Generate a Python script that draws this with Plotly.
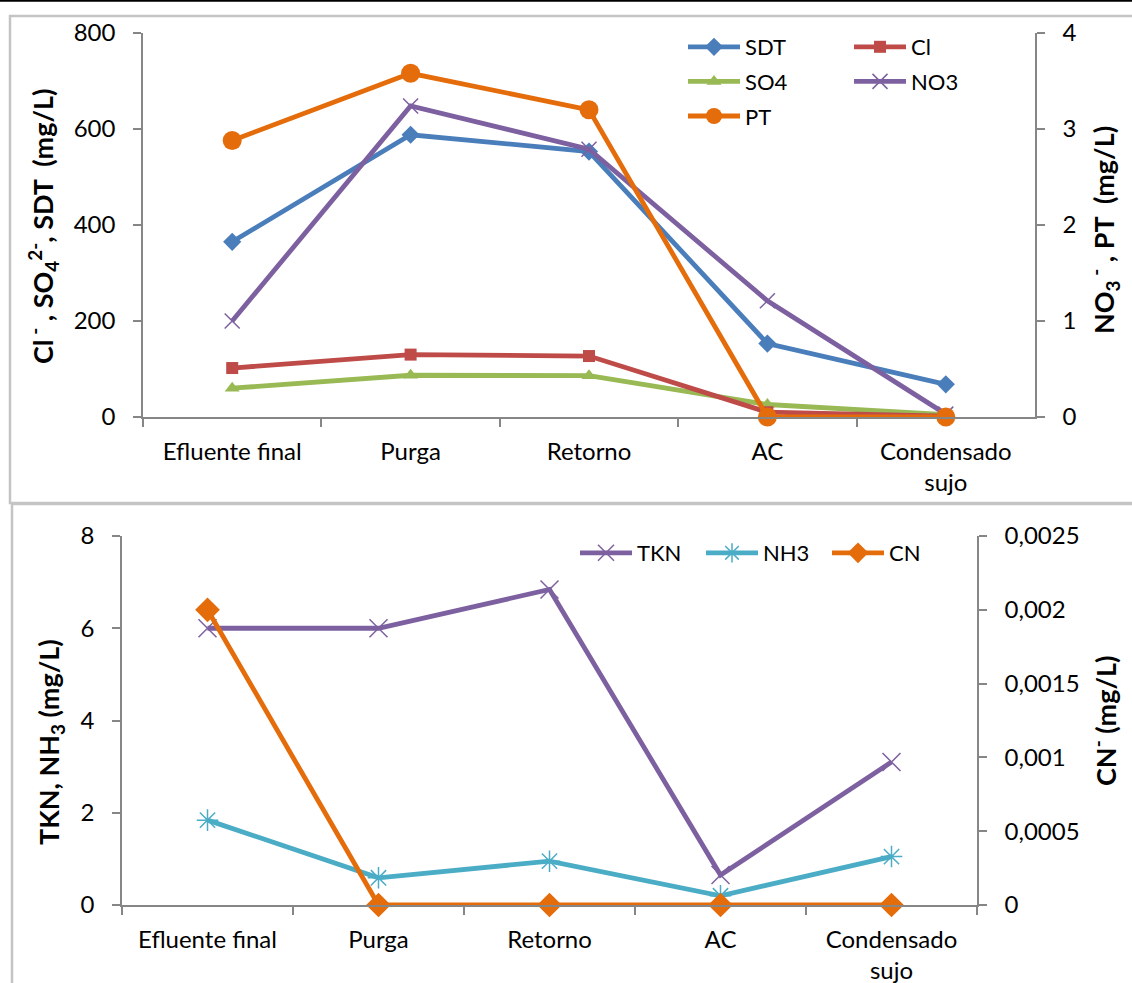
import plotly.graph_objects as go

W, H = 1132, 983

categories = ["Efluente final", "Purga", "Retorno", "AC", "Condensado<br>sujo"]

# Top panel (left axis, mg/L)
sdt = [365, 588, 553, 153, 68]
cl = [102, 130, 127, 10, 2]
so4 = [60, 87, 86, 26, 5]
# Top panel (right axis, mg/L)
no3 = [1.0, 3.24, 2.79, 1.21, 0.03]
pt = [2.88, 3.58, 3.2, 0.0, 0.0]

# Bottom panel (left axis)
tkn = [6.0, 6.0, 6.84, 0.65, 3.1]
nh3 = [1.84, 0.59, 0.95, 0.2, 1.05]
# Bottom panel (right axis)
cn = [0.002, 0.0, 0.0, 0.0, 0.0]

BLUE = "#4A7EBB"
RED = "#BE4B48"
GREEN = "#98B954"
PURPLE = "#7D60A0"
ORANGE = "#E46C0A"
AQUA = "#4BACC6"
AXIS = "#868686"
FONT = "Lato"

def px_x(p):
    return p / W

def px_y(p):
    return 1 - p / H

fig = go.Figure()

LW = 4.8

def add(name, y, color, symbol, size, xa, ya, legend, mline=None):
    marker = dict(symbol=symbol, size=size, color=color)
    if mline is not None:
        marker["line"] = dict(color=color, width=mline)
    fig.add_trace(go.Scatter(
        x=categories, y=y, name=name, mode="lines+markers",
        line=dict(color=color, width=LW), marker=marker,
        xaxis=xa, yaxis=ya, legend=legend, legendgroup=name, cliponaxis=False))

add("SDT", sdt, BLUE, "diamond", 14, "x", "y", "legend")
add("SO4", so4, GREEN, "triangle-up", 13, "x", "y", "legend")
add("Cl", cl, RED, "square", 12, "x", "y", "legend2")
add("NO3", no3, PURPLE, "x-thin-open", 15, "x", "y2", "legend2", mline=1.5)
add("PT", pt, ORANGE, "circle", 19, "x", "y2", "legend")

add("TKN", tkn, PURPLE, "x-thin-open", 18, "x2", "y3", "legend3", mline=1.5)
add("NH3", nh3, AQUA, "asterisk-open", 18, "x2", "y3", "legend3", mline=1.5)
add("CN", cn, ORANGE, "diamond", 19, "x2", "y4", "legend3")

tickfont = dict(family=FONT, size=24, color="black")

xcommon = dict(type="category", range=[-0.5, 4.5], showline=True, linecolor=AXIS,
               linewidth=1.5, ticks="outside", tickson="boundaries", ticklen=8,
               tickcolor=AXIS, tickwidth=1.5, showgrid=False, zeroline=False,
               tickfont=tickfont, fixedrange=True, ticklabelstandoff=12)
ycommon = dict(showline=True, linecolor=AXIS, linewidth=1.5, ticks="outside",
               ticklen=8, tickcolor=AXIS, tickwidth=1.5, showgrid=False,
               zeroline=False, tickfont=tickfont, fixedrange=True,
               ticklabelstandoff=13)

top_x = [px_x(143), px_x(1035)]
top_y = [px_y(417), px_y(33)]
bot_x = [px_x(122), px_x(977)]
bot_y = [px_y(905), px_y(536)]

legfont = dict(family=FONT, size=22, color="black")

fig.update_layout(
    width=W, height=H, margin=dict(l=0, r=0, t=0, b=0, autoexpand=False),
    paper_bgcolor="white", plot_bgcolor="rgba(0,0,0,0)",
    separators=",.",
    font=dict(family=FONT, size=22, color="black"),
    xaxis=dict(domain=top_x, anchor="y", **xcommon),
    yaxis=dict(domain=top_y, anchor="x", range=[0, 800], dtick=200, **ycommon),
    yaxis2=dict(overlaying="y", anchor="x", side="right", range=[0, 4], dtick=1, **ycommon),
    xaxis2=dict(domain=bot_x, anchor="y3", **xcommon),
    yaxis3=dict(domain=bot_y, anchor="x2", range=[0, 8], dtick=2, **ycommon),
    yaxis4=dict(overlaying="y3", anchor="x2", side="right", range=[0, 0.0025],
                dtick=0.0005, tickformat=".4~f", **ycommon),
    legend=dict(x=px_x(683), y=px_y(26), xanchor="left", yanchor="top",
                bgcolor="rgba(0,0,0,0)", font=legfont, tracegroupgap=3,
                itemwidth=52),
    legend2=dict(x=px_x(849), y=px_y(26), xanchor="left", yanchor="top",
                 bgcolor="rgba(0,0,0,0)", font=legfont, tracegroupgap=3,
                 itemwidth=52),
    legend3=dict(x=px_x(575), y=px_y(532), xanchor="left", yanchor="top",
                 orientation="h", bgcolor="rgba(0,0,0,0)", font=legfont,
                 itemwidth=52, entrywidth=59),
    showlegend=True,
)

# panel frames and top rule
fig.add_shape(type="line", xref="paper", yref="paper", x0=0, x1=1,
              y0=px_y(0.8), y1=px_y(0.8), line=dict(color="black", width=2))
fig.add_shape(type="rect", xref="paper", yref="paper", x0=px_x(10), x1=px_x(1145),
              y0=px_y(503), y1=px_y(16), line=dict(color="#C4C4C4", width=2.5))
fig.add_shape(type="rect", xref="paper", yref="paper", x0=px_x(12), x1=px_x(1145),
              y0=px_y(995), y1=px_y(504), line=dict(color="#C4C4C4", width=2.5))

title_font = dict(family=FONT, size=27, color="black")
annos = [
    ("<b>Cl<sup> -</sup> , SO<sub>4</sub><sup>2-</sup>, SDT  (mg/L)</b>", 43, 226),
    ("<b>NO<sub>3</sub><sup> -</sup> , PT  (mg/L)</b>", 1104, 230),
    ("<b>TKN, NH<sub>3</sub> (mg/L)</b>", 50, 742),
    ("<b>CN<sup>-</sup> (mg/L)</b>", 1104, 721),
]
for text, x, y in annos:
    fig.add_annotation(text=text, xref="paper", yref="paper", x=px_x(x), y=px_y(y),
                       xanchor="center", yanchor="middle", textangle=-90,
                       showarrow=False, font=title_font)

fig.write_html("out.html")
